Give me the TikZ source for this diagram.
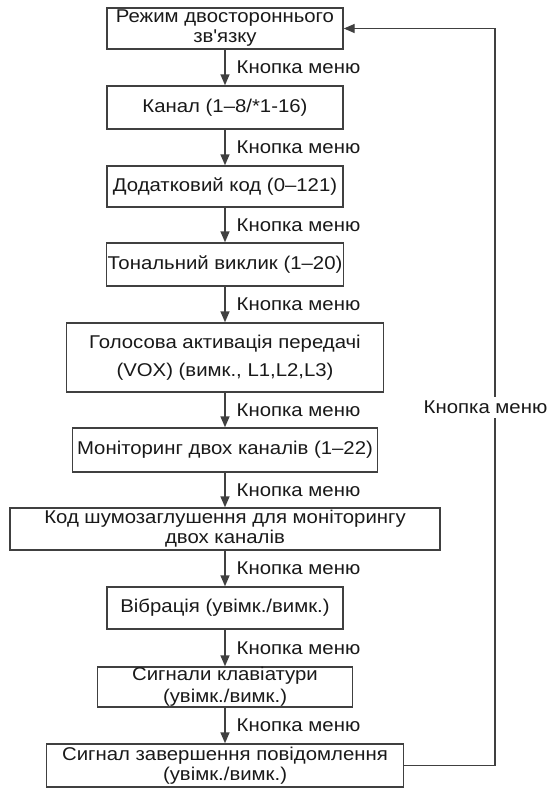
\documentclass[tikz,border=0pt]{standalone}
\usepackage{fontspec}
\setmainfont{Liberation Sans}[FakeStretch=1.1]
\usetikzlibrary{arrows.meta}

\begin{document}
\begin{tikzpicture}[x=1pt,y=-1pt,
		VertexStyle/.style = {rectangle,draw=black!75,line width=1.4pt,inner sep=0pt,
			align=center,text=black!90,font=\fontsize{18.5}{20}\selectfont},
		EdgeStyle/.style = {draw=black!75,line width=1.4pt,-{Triangle[length=11pt,width=9pt]}},
		LabelStyle/.style = {right,xshift=9pt,inner sep=2pt,text=black!90,
			font=\fontsize{18.5}{20}\selectfont},
		BackStyle/.style = {fill=white,xshift=-9.5pt,inner sep=4pt,text=black!90,
			font=\fontsize{18.5}{20}\selectfont}]
	\path[use as bounding box] (0,0) rectangle (548,790);
	% menu steps
	\node[VertexStyle,minimum width=236,minimum height=41] (A) at (225,28.5) {Режим двостороннього\\зв\textquotesingle язку};
	\node[VertexStyle,minimum width=236,minimum height=43] (B) at (225,107.5) {Канал (1--8/*1-16)};
	\node[VertexStyle,minimum width=236,minimum height=41] (C) at (225,186.5) {Додатковий код (0--121)};
	\node[VertexStyle,minimum width=237,minimum height=43] (D) at (225,264.5) {Тональний виклик (1--20)};
	\node[VertexStyle,minimum width=317,minimum height=69,
		font=\fontsize{18.5}{28}\selectfont] (E) at (225,357.5) {Голосова активація передачі\\(VOX) (вимк., L1,L2,L3)};
	\node[VertexStyle,minimum width=305,minimum height=44] (F) at (225,450) {Моніторинг двох каналів (1--22)};
	\node[VertexStyle,minimum width=430,minimum height=42] (G) at (225,529) {Код шумозаглушення для моніторингу\\двох каналів};
	\node[VertexStyle,minimum width=236,minimum height=42] (H) at (225,608) {Вібрація (увімк./вимк.)};
	\node[VertexStyle,minimum width=255,minimum height=40,
		font=\fontsize{18.5}{22}\selectfont] (I) at (225,687) {Сигнали клавіатури\\(увімк./вимк.)};
	\node[VertexStyle,minimum width=357,minimum height=43] (J) at (225,765.5) {Сигнал завершення повідомлення\\(увімк./вимк.)};
	% forward steps
	\draw[EdgeStyle] (A) -- node[midway,LabelStyle]{Кнопка меню} (B);
	\draw[EdgeStyle] (B) -- node[midway,LabelStyle]{Кнопка меню} (C);
	\draw[EdgeStyle] (C) -- node[midway,LabelStyle]{Кнопка меню} (D);
	\draw[EdgeStyle] (D) -- node[midway,LabelStyle]{Кнопка меню} (E);
	\draw[EdgeStyle] (E) -- node[midway,LabelStyle]{Кнопка меню} (F);
	\draw[EdgeStyle] (F) -- node[midway,LabelStyle]{Кнопка меню} (G);
	\draw[EdgeStyle] (G) -- node[midway,LabelStyle]{Кнопка меню} (H);
	\draw[EdgeStyle] (H) -- node[midway,LabelStyle]{Кнопка меню} (I);
	\draw[EdgeStyle] (I) -- node[midway,LabelStyle]{Кнопка меню} (J);
	% back to the start
	\coordinate (P) at (495,765.5);
	\coordinate (Q) at (495,28.5);
	\draw[EdgeStyle] (J.east) -- (P) -- node[pos=0.486,BackStyle]{Кнопка меню} (Q) -- (A.east);
\end{tikzpicture}
\end{document}
